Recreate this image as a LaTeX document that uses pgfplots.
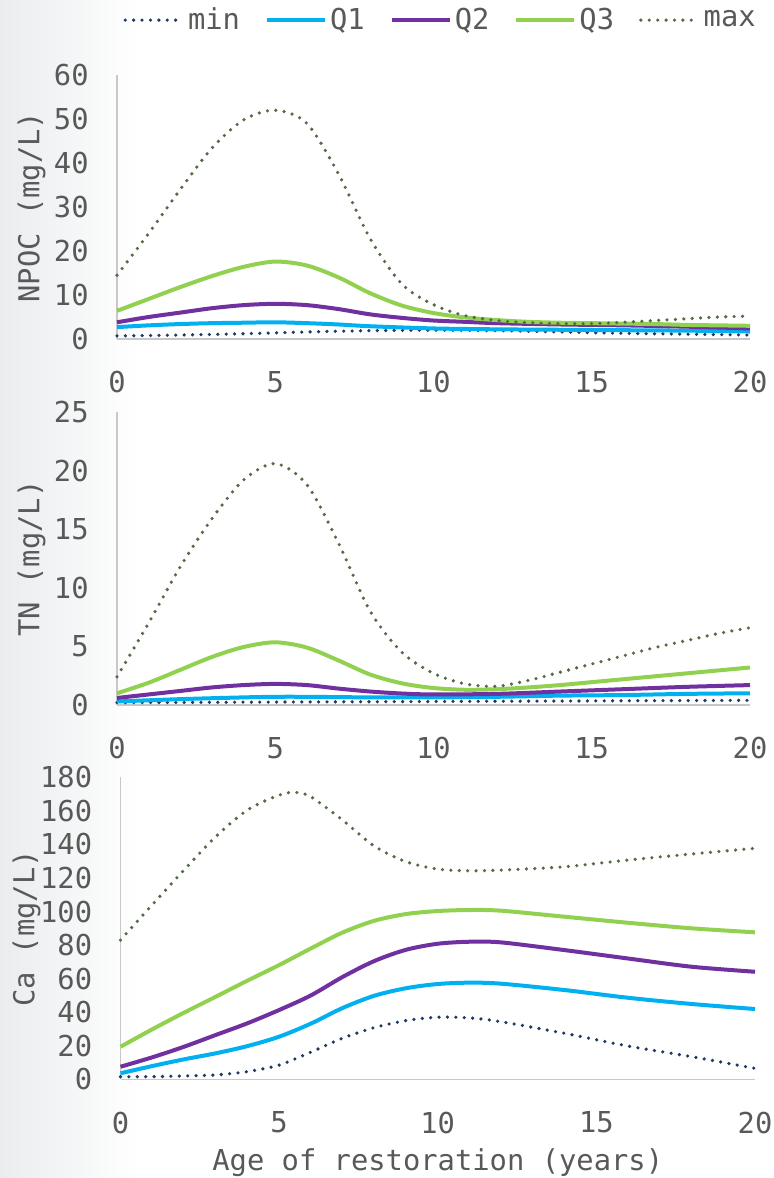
\documentclass[border=0pt]{standalone}
\usepackage{fontspec}
\setmainfont{DejaVu Sans Mono}
\usepackage{pgfplots}
\pgfplotsset{compat=1.18}

\definecolor{cmin}{HTML}{1F3864}
\definecolor{cq1}{HTML}{00B0F0}
\definecolor{cq2}{HTML}{7030A0}
\definecolor{cq3}{HTML}{92D050}
\definecolor{cmax}{HTML}{556B45}
\definecolor{axgray}{HTML}{C8C8C8}
\definecolor{tickgray}{HTML}{595959}
\definecolor{bggray}{HTML}{EAECEE}

\pgfplotsset{
  panel/.style={
    scale only axis, anchor=south west,
    width=316.5pt,
    xmin=0, xmax=20, ymin=0,
    xtick={0,5,10,15,20},
    axis x line=bottom, axis y line=left,
    axis line style={draw=axgray, line width=0.8pt, -},
    major tick length=0pt,
    tick label style={font=\fontsize{14.4}{17}\selectfont, text=tickgray, inner sep=0pt},
    label style={font=\fontsize{14.4}{17}\selectfont, text=tickgray},
    /pgf/number format/assume math mode=true,
    xticklabel shift=16pt, yticklabel shift=14pt,
    clip=false,
  },
  solidline/.style={smooth, line width=2pt},
  dotline/.style={smooth, line width=1.8pt, line cap=round, dash pattern=on 0pt off 4.2pt},
}

\begin{document}
\begin{tikzpicture}
\path[use as bounding box] (0,0) rectangle (387pt,-589pt);
\shade[left color=bggray, right color=white] (0,0) rectangle (70pt,-589pt);

% NPOC
\begin{axis}[panel, at={(58.5pt,-169.5pt)}, height=132pt,
    ymax=60, ytick={0,10,...,60},
    ylabel={NPOC (mg/L)},
    ylabel style={at={(axis description cs:-0.135,0.5)}, anchor=center},
    legend columns=5,
    legend style={draw=none, fill=none, at={(0.512,1.208)}, anchor=center,
      font=\fontsize{14.4}{17}\selectfont, text=tickgray,
      /tikz/every even column/.append style={column sep=11pt},
      nodes={inner sep=1.5pt}},
    legend image code/.code={\draw[#1] (0pt,0pt) -- (29pt,0pt);},
  ]
  \addplot[dotline, cmin] coordinates {(0,0.7)(2,0.9)(4,1.2)(6,1.6)(8,1.9)(10,2.0)(12,1.9)(14,1.6)(16,1.3)(18,1.1)(20,0.9)};
  \addlegendentry{min}
  \addplot[solidline, cq1] coordinates {(0,2.7)(1,3.1)(2,3.4)(3,3.6)(4,3.7)(5,3.8)(6,3.6)(7,3.3)(8,2.9)(10,2.4)(12,2.2)(14,2.1)(16,2.0)(18,1.9)(20,1.7)};
  \addlegendentry{Q1}
  \addplot[solidline, cq2] coordinates {(0,3.8)(1,5.0)(2,6.0)(3,7.0)(4,7.7)(5,8.0)(6,7.7)(7,6.8)(8,5.6)(9,4.8)(10,4.2)(11,3.9)(12,3.6)(14,3.3)(16,3.1)(18,2.8)(20,2.4)};
  \addlegendentry{Q2}
  \addplot[solidline, cq3] coordinates {(0,6.4)(1,9.1)(2,11.8)(3,14.3)(4,16.4)(5,17.6)(6,16.7)(7,14.0)(8,10.4)(9,7.6)(10,5.9)(11,4.9)(12,4.3)(13,3.9)(14,3.7)(15,3.6)(16,3.5)(17,3.4)(18,3.2)(19,3.1)(20,3.0)};
  \addlegendentry{Q3}
  \addplot[dotline, cmax] coordinates {(0,14.5)(1,24)(2,34)(3,43.4)(4,49.8)(5,52)(6,49)(7,37.5)(8,22.8)(9,12.5)(10,7.8)(11,5.3)(12,4.2)(13,3.7)(14,3.5)(15,3.5)(16,3.8)(17,4.2)(18,4.6)(19,5.0)(20,5.2)};
  \addlegendentry{max}
\end{axis}

% TN
\begin{axis}[panel, at={(58.5pt,-352.5pt)}, height=146.5pt,
    ymax=25, ytick={0,5,...,25},
    ylabel={TN (mg/L)},
    ylabel style={at={(axis description cs:-0.135,0.5)}, anchor=center},
  ]
  \addplot[dotline, cmin] coordinates {(0,0.2)(5,0.25)(10,0.3)(15,0.35)(20,0.4)};
  \addplot[solidline, cq1] coordinates {(0,0.3)(2,0.5)(4,0.65)(5,0.7)(6,0.7)(8,0.65)(10,0.65)(12,0.7)(14,0.8)(16,0.85)(18,0.95)(20,1.0)};
  \addplot[solidline, cq2] coordinates {(0,0.6)(1,0.9)(2,1.2)(3,1.5)(4,1.7)(5,1.8)(6,1.7)(7,1.4)(8,1.15)(9,0.98)(10,0.9)(12,0.95)(14,1.15)(16,1.35)(18,1.55)(20,1.7)};
  \addplot[solidline, cq3] coordinates {(0,1.0)(1,1.9)(2,3.0)(3,4.1)(4,4.95)(5,5.35)(6,4.9)(7,3.8)(8,2.6)(9,1.85)(10,1.45)(11,1.3)(12,1.35)(13,1.5)(14,1.7)(15,1.95)(16,2.2)(17,2.45)(18,2.7)(19,2.95)(20,3.2)};
  \addplot[dotline, cmax] coordinates {(0,2.4)(1,7.0)(2,11.8)(3,15.9)(4,19.2)(5,20.6)(6,18.8)(7,13.8)(8,8.0)(9,4.5)(10,2.7)(11,1.8)(12,1.6)(13,2.1)(14,2.8)(15,3.5)(16,4.2)(17,4.9)(18,5.5)(19,6.1)(20,6.6)};
\end{axis}

% Ca
\begin{axis}[panel, at={(60.25pt,-539.65pt)}, width=317.25pt, height=151pt,
    ymax=180, ytick={0,20,...,180},
    ylabel={Ca (mg/L)},
    ylabel style={at={(axis description cs:-0.148,0.5)}, anchor=center},
    xlabel={Age of restoration (years)},
    xlabel style={at={(axis description cs:0.5,-0.277)}, anchor=center},
  ]
  \addplot[dotline, cmin] coordinates {(0,1.5)(1,1.6)(2,2.0)(3,2.6)(4,4.6)(5,8.5)(6,16.2)(7,24.5)(8,30.8)(9,35.0)(10,37)(11,36.6)(12,34.3)(14,27.4)(16,19.8)(18,13.5)(20,6.5)};
  \addplot[solidline, cq1] coordinates {(0,3.6)(1,7.9)(2,11.9)(3,15.5)(4,19.8)(5,25.4)(6,33.2)(7,42.5)(8,49.8)(9,54.3)(10,56.8)(11,57.6)(12,57.0)(14,53.2)(16,48.6)(18,44.9)(20,41.9)};
  \addplot[solidline, cq2] coordinates {(0,7.5)(1,13.1)(2,19.4)(3,26.4)(4,33.4)(5,41.3)(6,50)(7,61)(8,70.5)(9,77.2)(10,80.8)(11,82)(12,81.6)(14,77)(16,72)(18,67.1)(20,64.1)};
  \addplot[solidline, cq3] coordinates {(0,19.4)(1,29.8)(2,39.7)(3,49.2)(4,58.8)(5,68.1)(6,78)(7,87.5)(8,94.5)(9,98.5)(10,100.3)(11,100.9)(12,100.5)(14,96.9)(16,93.3)(18,90)(20,87.6)};
  \addplot[dotline, cmax] coordinates {(0,83)(1,104)(2,124.7)(3,144.6)(4,160.5)(5,169.4)(5.5,171)(6,168.4)(7,154.5)(8,139)(9,129.7)(10,125.3)(11,124.3)(12,124.7)(14,126.7)(16,130.7)(18,134.3)(20,137.7)};
\end{axis}
\end{tikzpicture}
\end{document}
